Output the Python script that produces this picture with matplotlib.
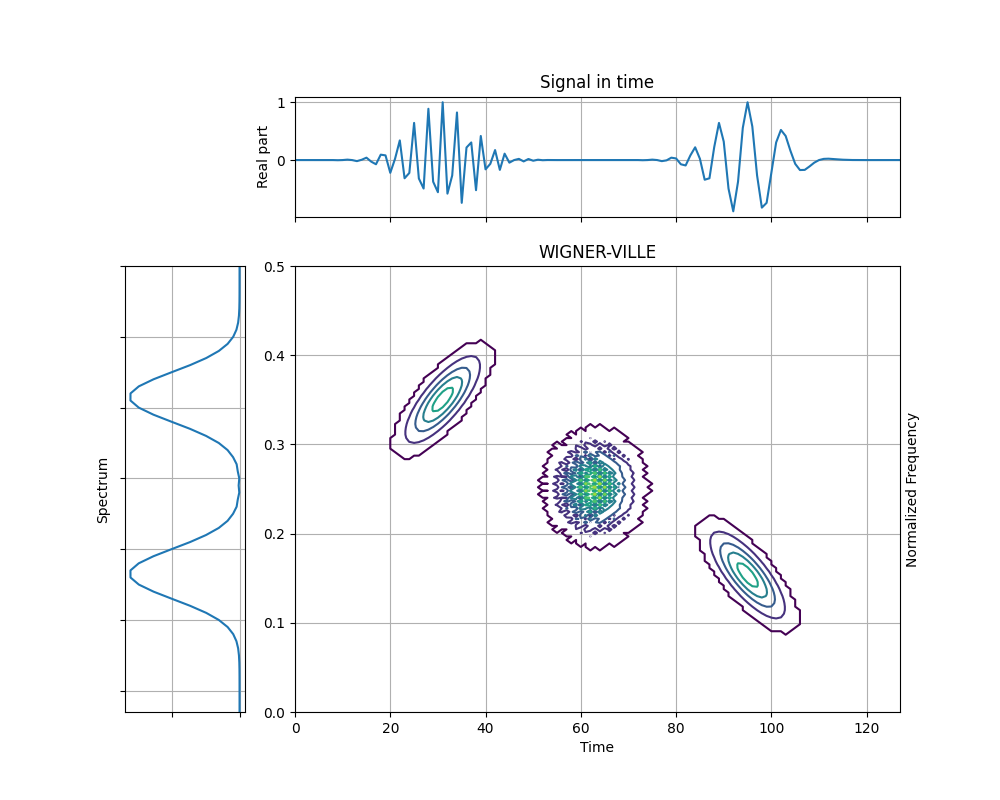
import numpy as np
import matplotlib
matplotlib.use("Agg")
import matplotlib.pyplot as plt

# ---- data ----
segment_length = 64                 # each chirp occupies 64 samples
start_freqs = [0.2, 0.3]            # normalized start frequency of each chirp
end_freqs = [0.5, 0.0]              # normalized end frequency of each chirp
threshold = 0.05                    # fraction of max below which the TFR is zeroed
time_ticks = [0, 20, 40, 60, 80, 100, 120]
freq_ticks = [0.0, 0.1, 0.2, 0.3, 0.4, 0.5]
sig_yticks = [0, 1]
spec_yticks = [0, 10, 20, 30, 40, 50, 60]


def fmlin(n, fi, ff):
    t0 = int(round(n / 2.0))
    y = np.arange(1, n + 1)
    phase = fi * (y - t0) + ((ff - fi) / (2.0 * (n - 1))) * ((y - 1) ** 2 - (t0 - 1) ** 2)
    s = np.exp(1j * 2 * np.pi * phase)
    return s / s[t0 - 1]


def amgauss(n):
    t0 = round(n / 2.0)
    spread = 2 * np.sqrt(n)
    t = np.arange(1, n + 1)
    return np.exp(-((t - t0) / spread) ** 2 * np.pi)


def wigner_ville(x):
    n = len(x)
    tfr = np.zeros((n, n), dtype=complex)
    half = n // 2
    for ti in range(n):
        taumax = min(ti, n - ti - 1, half - 1)
        tau = np.arange(-taumax, taumax + 1)
        idx = np.remainder(n + tau, n)
        tfr[idx, ti] = x[ti + tau] * np.conj(x[ti - tau])
        if (ti <= n - half - 1) and (ti >= half):
            tfr[half, ti] = 0.5 * (x[ti + half] * np.conj(x[ti - half]) +
                                   x[ti - half] * np.conj(x[ti + half]))
    return np.real(np.fft.fft(tfr, axis=0))


sig = np.concatenate([fmlin(segment_length, a, b) * amgauss(segment_length)
                      for a, b in zip(start_freqs, end_freqs)])
N = len(sig)
ts = np.arange(N)
freqs = np.linspace(0, 0.5, N)

tfr = np.abs(wigner_ville(sig))
tfr[tfr <= threshold * tfr.max()] = 0.0

spectrum = np.abs(np.fft.fft(sig)) ** 2
half_spec = spectrum[:N // 2][::-1]
spec_pos = np.arange(N // 2)

fig = plt.figure(figsize=(10, 8), dpi=100)
axTF = fig.add_axes([0.295, 0.11, 0.605, 0.5575])
axSig = fig.add_axes([0.295, 0.729, 0.605, 0.15])
axSpec = fig.add_axes([0.125, 0.11, 0.12, 0.5575])

T, F = np.meshgrid(ts, freqs)
axTF.contour(T, F, tfr)
axTF.set_xlim(0, N - 1)
axTF.set_ylim(0, 0.5)
axTF.set_xticks(time_ticks)
axTF.set_yticks(freq_ticks)
axTF.grid(True)
axTF.set_title("WIGNER-VILLE")
axTF.set_xlabel("Time")
axTF.set_ylabel("Normalized Frequency")
axTF.yaxis.set_label_position("right")

axSig.plot(ts, np.real(sig))
axSig.set_xlim(0, N - 1)
axSig.set_xticks(time_ticks)
axSig.set_xticklabels([])
axSig.set_yticks(sig_yticks)
axSig.grid(True)
axSig.set_title("Signal in time")
axSig.set_ylabel("Real part")

axSpec.plot(half_spec, spec_pos)
axSpec.set_ylim(N // 2 - 1, 0)
axSpec.set_yticks(spec_yticks)
axSpec.set_yticklabels([])
axSpec.invert_xaxis()
axSpec.set_xticklabels([])
axSpec.grid(True)
axSpec.set_ylabel("Spectrum")

fig.savefig("out.png", dpi=100)
